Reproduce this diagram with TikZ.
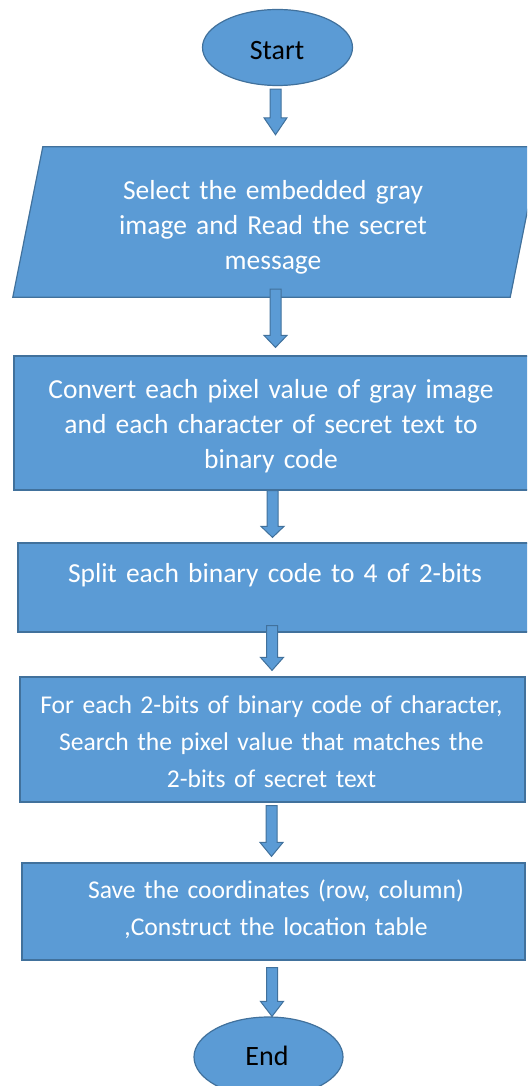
\documentclass[tikz,border=0pt]{standalone}
\usepackage{fontspec}
\setmainfont{Carlito}
\usetikzlibrary{shapes.geometric,calc}
\definecolor{boxfill}{HTML}{5B9BD5}
\definecolor{boxline}{HTML}{41719C}
\newcommand\blockarr[3]{%
  \draw[blockarrow] let \p1=#1, \p2=#2 in
    (\x1-5.5pt,\y1) -- (\x1-5.5pt,\y2+#3) -- (\x1-11.5pt,\y2+#3) -- (\x1,\y2)
    -- (\x1+11.5pt,\y2+#3) -- (\x1+5.5pt,\y2+#3) -- (\x1+5.5pt,\y1) -- cycle;}
\begin{document}
\begin{tikzpicture}[x=1pt,y=1pt,
  shapeline/.style={draw=boxline,fill=boxfill,line width=1.2pt},
  term/.style={shapeline,ellipse,inner sep=0pt,minimum width=150pt,minimum height=76pt},
  proc/.style={shapeline,rectangle,inner sep=0pt},
  blockarrow/.style={draw=boxline,fill=boxfill,line width=1pt,line join=miter},
  bigtxt/.style={text=white,font=\fontsize{27.5}{35}\selectfont,text width=520pt,align=center,anchor=base,inner sep=0pt},
  smalltxt/.style={text=white,font=\fontsize{25.6}{37}\selectfont,text width=520pt,align=center,anchor=base,inner sep=0pt},
  termtxt/.style={text=black,font=\fontsize{28}{34}\selectfont,anchor=base,inner sep=0pt}]
\useasboundingbox (0,0) rectangle (527,-1086);
\clip (0,0) rectangle (527,-1086);
% shapes
\node[term] (start) at (277.5,-47.5) {};
\node[inner sep=0pt,minimum width=497pt,minimum height=150pt] (sel) at (276.5,-222) {};
\draw[shapeline] ([xshift=-15pt]sel.south west) -- ([xshift=-15pt]sel.south east)
  -- ([xshift=15pt]sel.north east) -- ([xshift=15pt]sel.north west) -- cycle;
\node[proc,minimum width=518pt,minimum height=134pt] (conv) at (273,-423) {};
\node[proc,minimum width=514pt,minimum height=89pt] (split) at (275,-587.5) {};
\node[proc,minimum width=505pt,minimum height=125pt] (each) at (272.5,-739.5) {};
\node[proc,minimum width=503pt,minimum height=97pt] (save) at (273.5,-911.5) {};
\node[term,minimum width=149pt,minimum height=80pt] (end) at (268.5,-1057) {};
% block arrows
\blockarr{([xshift=-2pt,yshift=-3pt]start.south)}{([yshift=12pt]sel.north)}{17pt}
\blockarr{([xshift=-1pt,yshift=8pt]sel.south)}{([yshift=8pt]conv.north)}{12pt}
\blockarr{([xshift=-0.5pt]conv.south)}{([yshift=5pt]split.north)}{11pt}
\blockarr{([xshift=-3pt,yshift=7pt]split.south)}{([yshift=6pt]each.north)}{13pt}
\blockarr{([xshift=-1pt,yshift=-3pt]each.south)}{([yshift=6pt]save.north)}{14pt}
\blockarr{([xshift=-1.5pt,yshift=-7pt]save.south)}{(end.north)}{15pt}
% texts
\node[termtxt] (tstart) at (277,-60) {Start};
\begin{scope}
  \clip (0,-150) rectangle (527,-273);
  \node[bigtxt] (tsel) at (273,-200) {Select the embedded gray\\image and Read the secret\\message};
\end{scope}
\node[bigtxt] (tconv) at (271,-398) {Convert each pixel value of gray image\\and each character of secret text to\\binary code};
\node[bigtxt] (tsplit) at (275,-582) {Split each binary code to 4 of 2-bits};
\node[smalltxt] (teach) at (271.5,-713) {For each 2-bits of binary code of character,\\Search the pixel value that matches the\\2-bits of secret text};
\node[smalltxt] (tsave) at (276,-898) {Save the coordinates (row, column)\\,Construct the location table};
\node[termtxt] (tend) at (267,-1065) {End};
\end{tikzpicture}
\end{document}
